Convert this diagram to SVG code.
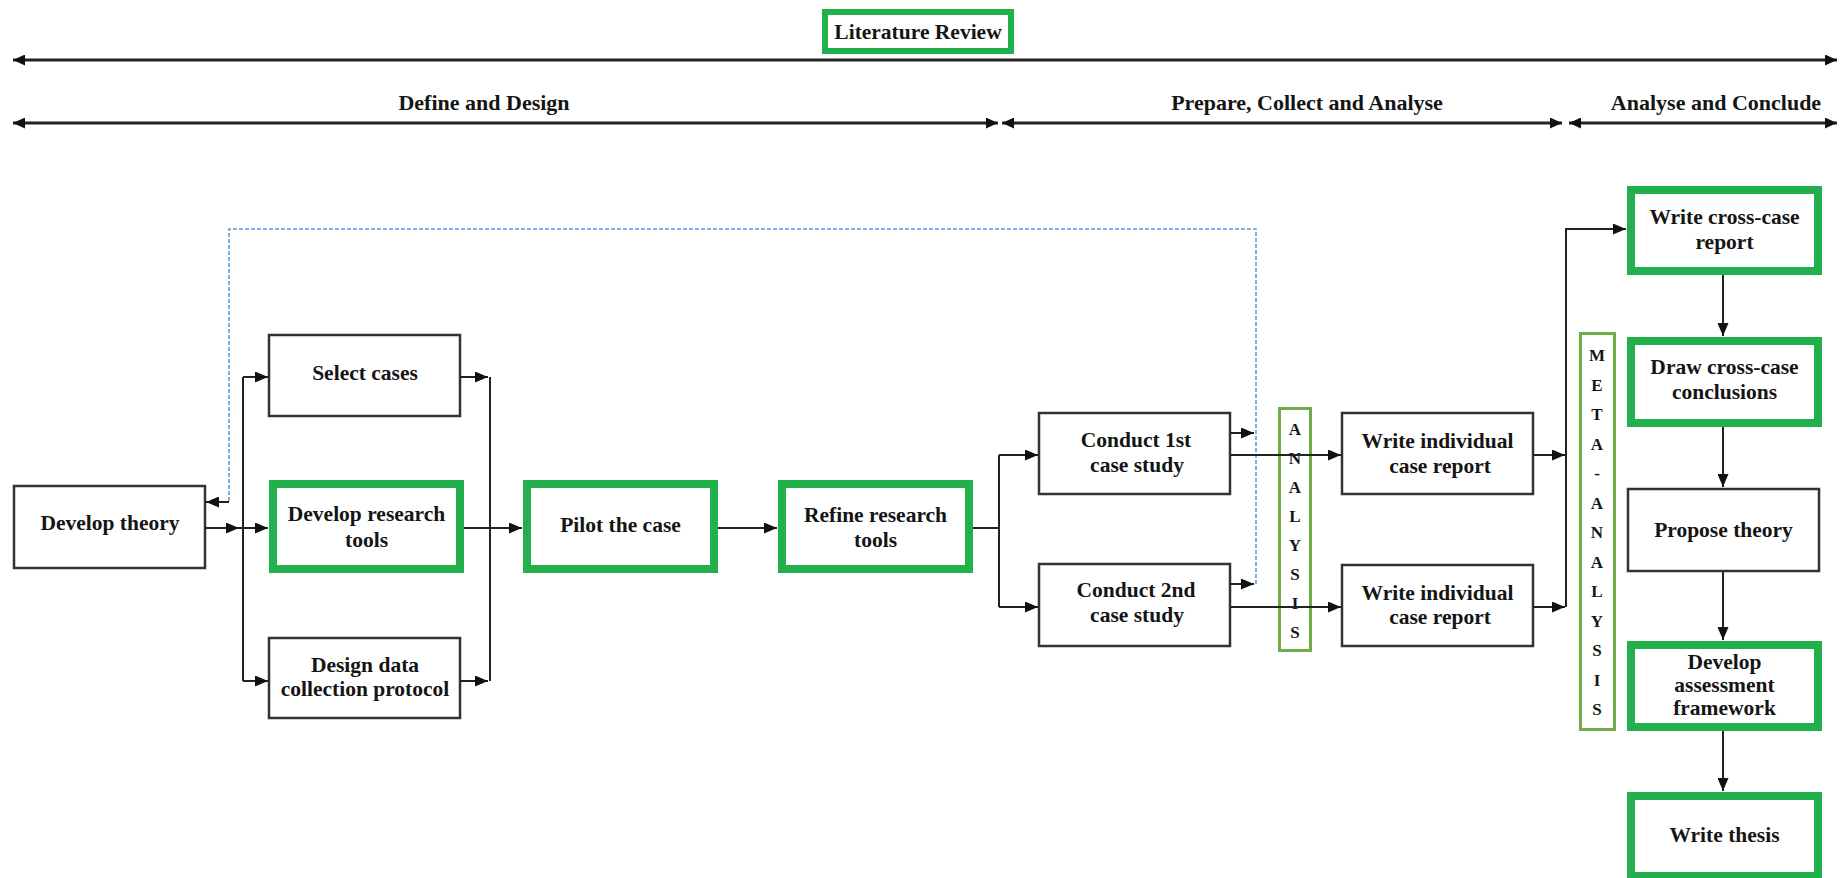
<svg xmlns="http://www.w3.org/2000/svg" width="1845" height="878" viewBox="0 0 1845 878">
  <defs>
    <marker id="ah" viewBox="0 0 13 11" refX="13" refY="5.5" markerWidth="13" markerHeight="11" markerUnits="userSpaceOnUse" orient="auto-start-reverse">
      <path d="M0,0 L13,5.5 L0,11 z" fill="#111"/>
    </marker>
    <marker id="ahs" viewBox="0 0 12 11" refX="12" refY="5.5" markerWidth="12" markerHeight="11" markerUnits="userSpaceOnUse" orient="auto-start-reverse">
      <path d="M0,0 L12,5.5 L0,11 z" fill="#111"/>
    </marker>
    <style>
      .lbl { font-family: "Liberation Serif", "Times New Roman", serif; font-weight: bold; font-size: 21.5px; fill: #151515; text-anchor: middle; }
      .phase { font-family: "Liberation Serif", "Times New Roman", serif; font-weight: bold; font-size: 22px; fill: #151515; text-anchor: middle; }
      .vert { font-family: "Liberation Serif", "Times New Roman", serif; font-weight: bold; font-size: 17px; fill: #151515; text-anchor: middle; }
      .box { fill: #fff; stroke: #333; stroke-width: 2.5; }
      .gbox { fill: #fff; stroke: #21b04b; stroke-width: 8; }
      .lbox { fill: none; stroke: #70ad47; stroke-width: 3; }
      .ln { fill: none; stroke: #222; stroke-width: 2; }
      .arr { fill: none; stroke: #222; stroke-width: 2; marker-end: url(#ah); }
      .span { fill: none; stroke: #222; stroke-width: 3; marker-start: url(#ahs); marker-end: url(#ahs); }
      .dash { fill: none; stroke: #5b9bd5; stroke-width: 1.6; stroke-dasharray: 4 2; }
    </style>
  </defs>
  <rect width="1845" height="878" fill="#fff"/>

  <!-- phase bands -->
  <g id="phases">
    <g id="literature-review">
      <rect x="825" y="12" width="186" height="39" fill="#fff" stroke="#21b04b" stroke-width="6"/>
      <text class="lbl" x="918" y="39" font-size="21">Literature Review</text>
    </g>
    <line class="span" x1="13" y1="60" x2="1837" y2="60"/>
    <text class="phase" x="484" y="110">Define and Design</text>
    <text class="phase" x="1307" y="110">Prepare, Collect and Analyse</text>
    <text class="phase" x="1716" y="110">Analyse and Conclude</text>
    <line class="span" x1="13" y1="123" x2="998" y2="123"/>
    <line class="span" x1="1002" y1="123" x2="1562" y2="123"/>
    <line class="span" x1="1569" y1="123" x2="1837" y2="123"/>
  </g>

  <!-- process nodes -->
  <g id="develop-theory">
    <rect class="box" x="14" y="486" width="191" height="82"/>
    <text class="lbl" x="110" y="530">Develop theory</text>
  </g>
  <g id="select-cases">
    <rect class="box" x="269" y="335" width="191" height="81"/>
    <text class="lbl" x="365" y="380">Select cases</text>
  </g>
  <g id="develop-research-tools">
    <rect class="gbox" x="273" y="484" width="187" height="85"/>
    <text class="lbl" x="366.5" y="521">Develop research<tspan x="366.5" dy="26">tools</tspan></text>
  </g>
  <g id="design-data-collection">
    <rect class="box" x="269" y="638" width="191" height="80"/>
    <text class="lbl" x="365" y="672">Design data<tspan x="365" dy="24">collection protocol</tspan></text>
  </g>
  <g id="pilot-case">
    <rect class="gbox" x="527" y="484" width="187" height="85"/>
    <text class="lbl" x="620.5" y="532">Pilot the case</text>
  </g>
  <g id="refine-research-tools">
    <rect class="gbox" x="782" y="484" width="187" height="85"/>
    <text class="lbl" x="875.5" y="522">Refine research<tspan x="875.5" dy="25">tools</tspan></text>
  </g>
  <g id="conduct-1st">
    <rect class="box" x="1039" y="413" width="191" height="81"/>
    <text class="lbl" x="1136" y="447">Conduct 1st<tspan x="1137" dy="25">case study</tspan></text>
  </g>
  <g id="conduct-2nd">
    <rect class="box" x="1039" y="564" width="191" height="82"/>
    <text class="lbl" x="1136" y="597">Conduct 2nd<tspan x="1137" dy="25">case study</tspan></text>
  </g>
  <g id="analysis">
    <rect class="lbox" x="1279.5" y="408.5" width="31" height="242"/>
    <text class="vert" x="1295" y="435">A</text>
    <text class="vert" x="1295" y="464">N</text>
    <text class="vert" x="1295" y="493">A</text>
    <text class="vert" x="1295" y="522">L</text>
    <text class="vert" x="1295" y="551">Y</text>
    <text class="vert" x="1295" y="580">S</text>
    <text class="vert" x="1295" y="609">I</text>
    <text class="vert" x="1295" y="638">S</text>
  </g>
  <g id="write-individual-1">
    <rect class="box" x="1342" y="413" width="191" height="81"/>
    <text class="lbl" x="1437.5" y="448">Write individual<tspan x="1440" dy="25">case report</tspan></text>
  </g>
  <g id="write-individual-2">
    <rect class="box" x="1342" y="565" width="191" height="81"/>
    <text class="lbl" x="1437.5" y="600">Write individual<tspan x="1440" dy="24">case report</tspan></text>
  </g>
  <g id="meta-analysis">
    <rect class="lbox" x="1580.5" y="333.5" width="34" height="396"/>
    <text class="vert" x="1597" y="361">M</text>
    <text class="vert" x="1597" y="390.5">E</text>
    <text class="vert" x="1597" y="420">T</text>
    <text class="vert" x="1597" y="449.5">A</text>
    <text class="vert" x="1597" y="479">-</text>
    <text class="vert" x="1597" y="508.5">A</text>
    <text class="vert" x="1597" y="538">N</text>
    <text class="vert" x="1597" y="567.5">A</text>
    <text class="vert" x="1597" y="597">L</text>
    <text class="vert" x="1597" y="626.5">Y</text>
    <text class="vert" x="1597" y="656">S</text>
    <text class="vert" x="1597" y="685.5">I</text>
    <text class="vert" x="1597" y="715">S</text>
  </g>
  <g id="write-cross-case-report">
    <rect class="gbox" x="1631" y="190" width="187" height="81"/>
    <text class="lbl" x="1724.5" y="224">Write cross-case<tspan x="1724.5" dy="25">report</tspan></text>
  </g>
  <g id="draw-cross-case-conclusions">
    <rect class="gbox" x="1631" y="341" width="187" height="82"/>
    <text class="lbl" x="1724.5" y="374">Draw cross-case<tspan x="1724.5" dy="25">conclusions</tspan></text>
  </g>
  <g id="propose-theory">
    <rect class="box" x="1628" y="489" width="191" height="82"/>
    <text class="lbl" x="1723.5" y="537">Propose theory</text>
  </g>
  <g id="develop-assessment-framework">
    <rect class="gbox" x="1631" y="645" width="187" height="82"/>
    <text class="lbl" x="1724.5" y="669">Develop<tspan x="1724.5" dy="23">assessment</tspan><tspan x="1724.5" dy="23">framework</tspan></text>
  </g>
  <g id="write-thesis">
    <rect class="gbox" x="1631" y="796" width="187" height="80"/>
    <text class="lbl" x="1724.5" y="842">Write thesis</text>
  </g>

  <!-- connectors -->
  <g id="connectors">
    <!-- theory fans out to the three design tasks -->
    <line class="arr" x1="205" y1="528" x2="239" y2="528"/>
    <line class="ln" x1="243" y1="377" x2="243" y2="681"/>
    <line class="arr" x1="243" y1="377" x2="268" y2="377"/>
    <line class="arr" x1="239" y1="528" x2="268" y2="528"/>
    <line class="arr" x1="243" y1="681" x2="268" y2="681"/>
    <!-- design tasks merge into pilot -->
    <line class="arr" x1="460" y1="377" x2="488" y2="377"/>
    <line class="arr" x1="460" y1="681" x2="488" y2="681"/>
    <line class="ln" x1="490" y1="377" x2="490" y2="681"/>
    <line class="arr" x1="464" y1="528" x2="522" y2="528"/>
    <line class="arr" x1="718" y1="528" x2="777" y2="528"/>
    <!-- refine splits into two case studies -->
    <line class="ln" x1="973" y1="528" x2="999" y2="528"/>
    <line class="ln" x1="999" y1="455" x2="999" y2="607"/>
    <line class="arr" x1="999" y1="455" x2="1038" y2="455"/>
    <line class="arr" x1="999" y1="607" x2="1038" y2="607"/>
    <!-- feedback loop back to theory -->
    <line class="arr" x1="1230" y1="433" x2="1254" y2="433"/>
    <line class="arr" x1="1230" y1="584" x2="1254" y2="584"/>
    <path class="dash" d="M1256,584 V229 H229 V502"/>
    <line class="arr" x1="229" y1="502" x2="206" y2="502"/>
    <!-- case studies to individual reports -->
    <line class="arr" x1="1230" y1="455" x2="1341" y2="455"/>
    <line class="arr" x1="1230" y1="607" x2="1341" y2="607"/>
    <!-- individual reports to cross-case report -->
    <line class="arr" x1="1533" y1="455" x2="1565" y2="455"/>
    <line class="arr" x1="1533" y1="607" x2="1565" y2="607"/>
    <line class="ln" x1="1566" y1="229" x2="1566" y2="607"/>
    <line class="arr" x1="1565" y1="229" x2="1626" y2="229"/>
    <!-- conclusion column -->
    <line class="arr" x1="1723" y1="275" x2="1723" y2="336"/>
    <line class="arr" x1="1723" y1="427" x2="1723" y2="487"/>
    <line class="arr" x1="1723" y1="572" x2="1723" y2="640"/>
    <line class="arr" x1="1723" y1="731" x2="1723" y2="791"/>
  </g>
</svg>
